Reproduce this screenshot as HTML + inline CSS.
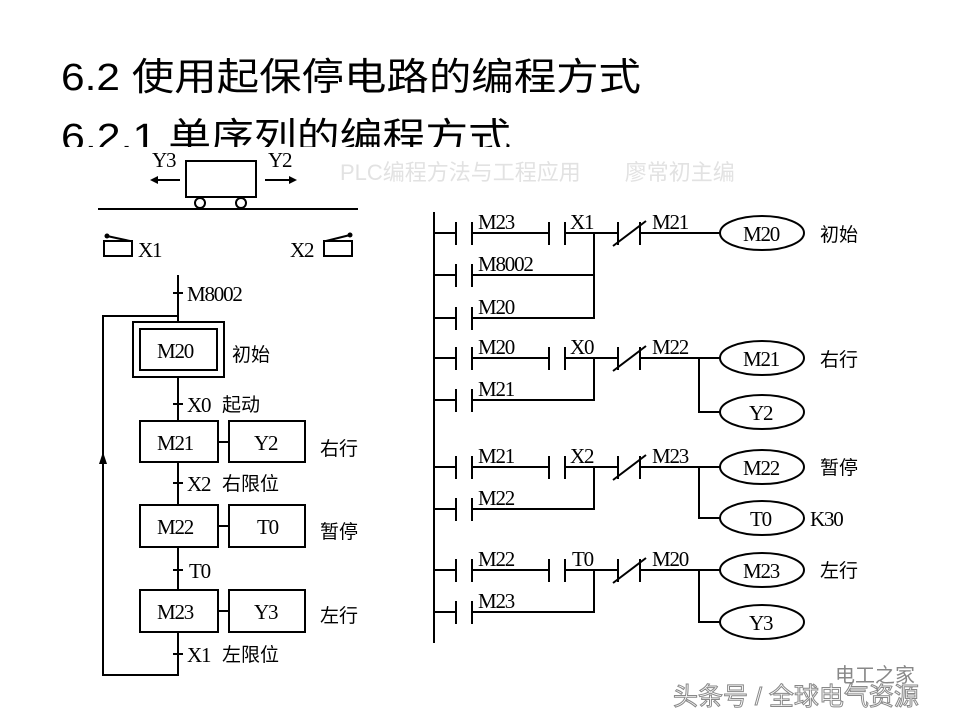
<!DOCTYPE html>
<html><head><meta charset="utf-8"><style>
html,body{margin:0;padding:0;background:#fff;}
svg{display:block}
.t{font-family:"Liberation Sans","Noto Sans CJK SC",sans-serif;}
.s{font-family:"Liberation Serif","Noto Serif CJK SC",serif;font-size:21px;letter-spacing:-1.2px}
.c{font-family:"Liberation Sans","Noto Sans CJK SC",sans-serif;font-size:19px}
</style></head><body>
<svg width="960" height="720" viewBox="0 0 960 720" xmlns="http://www.w3.org/2000/svg">
<text class="t" x="61" y="90" font-size="38" textLength="580" lengthAdjust="spacingAndGlyphs">6.2 使用起保停电路的编程方式</text>
<text class="t" x="61" y="150" font-size="38" textLength="450" lengthAdjust="spacingAndGlyphs">6.2.1 单序列的编程方式</text>
<rect x="0" y="147" width="960" height="18" fill="#fff"/>
<text x="340" y="180" font-family="Liberation Sans,Noto Sans CJK SC,sans-serif" font-size="22" fill="#e2e2e2">PLC编程方法与工程应用　　廖常初主编</text>
<g stroke="#000" stroke-width="2" fill="none">
<rect x="186" y="161" width="70" height="36"/>
<circle cx="200" cy="203" r="5"/><circle cx="241" cy="203" r="5"/>
<line x1="98" y1="209" x2="358" y2="209"/>
<line x1="155" y1="180" x2="180" y2="180"/><line x1="265" y1="180" x2="292" y2="180"/>
<rect x="104" y="241" width="28" height="15"/>
<line x1="107" y1="236" x2="130" y2="241"/>
<rect x="324" y="241" width="28" height="15"/>
<line x1="326" y1="241" x2="350" y2="235"/>
<line x1="178" y1="275" x2="178" y2="322"/>
<line x1="173" y1="293" x2="183" y2="293"/>
<polyline points="178,316 103,316 103,675 178,675 178,632"/>
<rect x="133" y="322" width="91" height="55"/>
<rect x="140" y="329" width="77" height="41"/>
<line x1="178" y1="377" x2="178" y2="421"/>
<line x1="173" y1="404" x2="183" y2="404"/>
<rect x="140" y="421" width="78" height="41"/><rect x="229" y="421" width="76" height="41"/>
<line x1="218" y1="442" x2="229" y2="442"/>
<line x1="178" y1="462" x2="178" y2="505"/>
<line x1="173" y1="483" x2="183" y2="483"/>
<rect x="140" y="505" width="78" height="42"/><rect x="229" y="505" width="76" height="42"/>
<line x1="218" y1="526" x2="229" y2="526"/>
<line x1="178" y1="547" x2="178" y2="590"/>
<line x1="173" y1="570" x2="183" y2="570"/>
<rect x="140" y="590" width="78" height="42"/><rect x="229" y="590" width="76" height="42"/>
<line x1="218" y1="611" x2="229" y2="611"/>
<line x1="173" y1="654" x2="183" y2="654"/>
<line x1="434" y1="212" x2="434" y2="643"/>
</g>
<polygon points="150,180 158,176 158,184" fill="#000"/>
<polygon points="297,180 289,176 289,184" fill="#000"/>
<polygon points="103,452 99,464 107,464" fill="#000"/>
<circle cx="107" cy="236" r="2.5" fill="#000"/><circle cx="350" cy="235" r="2.5" fill="#000"/>
<g class="s">
<text x="152" y="167">Y3</text><text x="268" y="167">Y2</text>
<text x="138" y="257">X1</text><text x="290" y="257">X2</text>
<text x="187" y="301">M8002</text>
<text x="157" y="358">M20</text>
<text x="187" y="412">X0</text>
<text x="157" y="450">M21</text><text x="254" y="450">Y2</text>
<text x="187" y="491">X2</text>
<text x="157" y="534">M22</text><text x="257" y="534">T0</text>
<text x="189" y="578">T0</text>
<text x="157" y="619">M23</text><text x="254" y="619">Y3</text>
<text x="187" y="662">X1</text>
</g>
<g class="c">
<text x="232" y="361">初始</text>
<text x="222" y="411">起动</text>
<text x="320" y="455">右行</text>
<text x="222" y="490">右限位</text>
<text x="320" y="538">暂停</text>
<text x="320" y="622">左行</text>
<text x="222" y="661">左限位</text>
</g>
<g stroke="#000" stroke-width="2" fill="none">
<path d="M434 233H456M456 222V245M472 222V245M472 233H549M549 222V245M565 222V245M565 233H618M618 222V245M640 222V245M640 233H720M613 246L646 221"/>
<path d="M434 275H456M456 264V287M472 264V287M472 275H594"/>
<path d="M434 318H456M456 307V330M472 307V330M472 318H594V233"/>
<ellipse cx="762" cy="233" rx="42" ry="17"/>
<path d="M434 358H456M456 347V370M472 347V370M472 358H549M549 347V370M565 347V370M565 358H618M618 347V370M640 347V370M640 358H720M613 371L646 346"/>
<path d="M434 400H456M456 389V412M472 389V412M472 400H594V358"/>
<path d="M699 358V412H720"/>
<ellipse cx="762" cy="358" rx="42" ry="17"/><ellipse cx="762" cy="412" rx="42" ry="17"/>
<path d="M434 467H456M456 456V479M472 456V479M472 467H549M549 456V479M565 456V479M565 467H618M618 456V479M640 456V479M640 467H720M613 480L646 455"/>
<path d="M434 509H456M456 498V521M472 498V521M472 509H594V467"/>
<path d="M699 467V518H720"/>
<ellipse cx="762" cy="467" rx="42" ry="17"/><ellipse cx="762" cy="518" rx="42" ry="17"/>
<path d="M434 570H456M456 559V582M472 559V582M472 570H549M549 559V582M565 559V582M565 570H618M618 559V582M640 559V582M640 570H720M613 583L646 558"/>
<path d="M434 612H456M456 601V624M472 601V624M472 612H594V570"/>
<path d="M699 570V622H720"/>
<ellipse cx="762" cy="570" rx="42" ry="17"/><ellipse cx="762" cy="622" rx="42" ry="17"/>
</g>
<g class="s">
<text x="478" y="229">M23</text><text x="570" y="229">X1</text><text x="652" y="229">M21</text>
<text x="478" y="271">M8002</text><text x="478" y="314">M20</text>
<text x="478" y="354">M20</text><text x="570" y="354">X0</text><text x="652" y="354">M22</text>
<text x="478" y="396">M21</text>
<text x="478" y="463">M21</text><text x="570" y="463">X2</text><text x="652" y="463">M23</text>
<text x="478" y="505">M22</text>
<text x="478" y="566">M22</text><text x="572" y="566">T0</text><text x="652" y="566">M20</text>
<text x="478" y="608">M23</text>
<text x="743" y="241">M20</text><text x="743" y="366">M21</text><text x="749" y="420">Y2</text>
<text x="743" y="475">M22</text><text x="750" y="526">T0</text><text x="810" y="526">K30</text>
<text x="743" y="578">M23</text><text x="749" y="630">Y3</text>
</g>
<g class="c">
<text x="820" y="241">初始</text><text x="820" y="366">右行</text>
<text x="820" y="474">暂停</text><text x="820" y="577">左行</text>
</g>
<text x="835" y="682" font-family="Liberation Sans,Noto Sans CJK SC,sans-serif" font-size="20" fill="#888">电工之家</text>
<text x="673" y="705" font-family="Liberation Sans,Noto Sans CJK SC,sans-serif" font-size="25" fill="#fff" stroke="#888" stroke-width="1">头条号 / 全球电气资源</text>
</svg>
</body></html>
